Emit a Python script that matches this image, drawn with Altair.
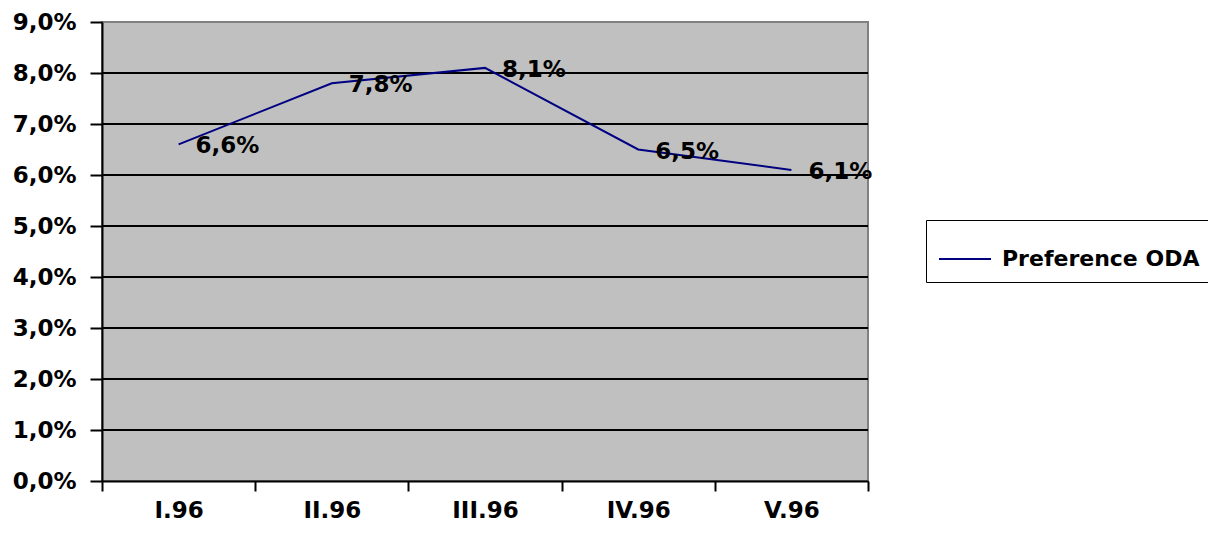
import altair as alt
import pandas as pd

categories = ["I.96", "II.96", "III.96", "IV.96", "V.96"]
values = [6.6, 7.8, 8.1, 6.5, 6.1]
labels = ["6,6%", "7,8%", "8,1%", "6,5%", "6,1%"]
series = "Preference ODA"
grid_values = [1, 2, 3, 4, 5, 6, 7, 8]
y_ticks = [0, 1, 2, 3, 4, 5, 6, 7, 8, 9]

FONT = "DejaVu Sans"
FS = 23

df = pd.DataFrame({"cat": categories, "val": values, "lab": labels, "series": [series] * 5})
grid_df = pd.DataFrame({"g": grid_values})

x_enc = alt.X(
    "cat:N",
    sort=categories,
    scale=alt.Scale(paddingInner=0, paddingOuter=0),
    axis=alt.Axis(
        title=None, labelAngle=0, tickBand="extent", grid=False,
        domainColor="black", domainWidth=2, tickColor="black", tickWidth=2, tickSize=10,
        labelFont=FONT, labelFontWeight="bold", labelFontSize=FS, labelColor="black",
        labelPadding=8, labelBaseline="top",
    ),
)
y_scale = alt.Scale(domain=[0, 9], nice=False, zero=True)

grid = alt.Chart(grid_df).mark_rule(color="black", strokeWidth=2).encode(
    y=alt.Y("g:Q", scale=y_scale)
)

line = alt.Chart(df).mark_line(strokeWidth=2).encode(
    x=x_enc,
    y=alt.Y(
        "val:Q", scale=y_scale,
        axis=alt.Axis(
            title=None, values=y_ticks, grid=False,
            labelExpr="replace(format(datum.value, '.1f'), '.', ',') + '%'",
            domainColor="black", domainWidth=2, tickColor="black", tickWidth=2, tickSize=12,
            labelFont=FONT, labelFontWeight="bold", labelFontSize=FS, labelColor="black",
            labelPadding=14,
        ),
    ),
    color=alt.Color(
        "series:N",
        scale=alt.Scale(domain=[series], range=["#000080"]),
        legend=alt.Legend(
            title=None, orient="none", legendX=824, legendY=198,
            symbolType="stroke", symbolSize=2704, symbolStrokeWidth=2,
            labelFont=FONT, labelFontWeight="bold", labelFontSize=22, labelColor="black",
            labelOffset=10, labelLimit=400, strokeColor="black", padding=12, fillColor="white",
        ),
    ),
)

text = alt.Chart(df).mark_text(
    align="left", baseline="middle", dx=17, dy=2,
    font=FONT, fontWeight="bold", fontSize=FS, color="black",
).encode(
    x=alt.X("cat:N", sort=categories),
    y=alt.Y("val:Q", scale=y_scale),
    text="lab:N",
)

chart = alt.layer(grid, line, text).properties(
    width=766, height=459,
    autosize=alt.AutoSizeParams(type="none"),
    padding={"left": 94, "top": 14, "right": 340, "bottom": 53},
).configure_view(
    fill="#C0C0C0", stroke="#808080", strokeWidth=2
)

chart.save("out.html", embed_options={"renderer": "svg", "actions": False})
